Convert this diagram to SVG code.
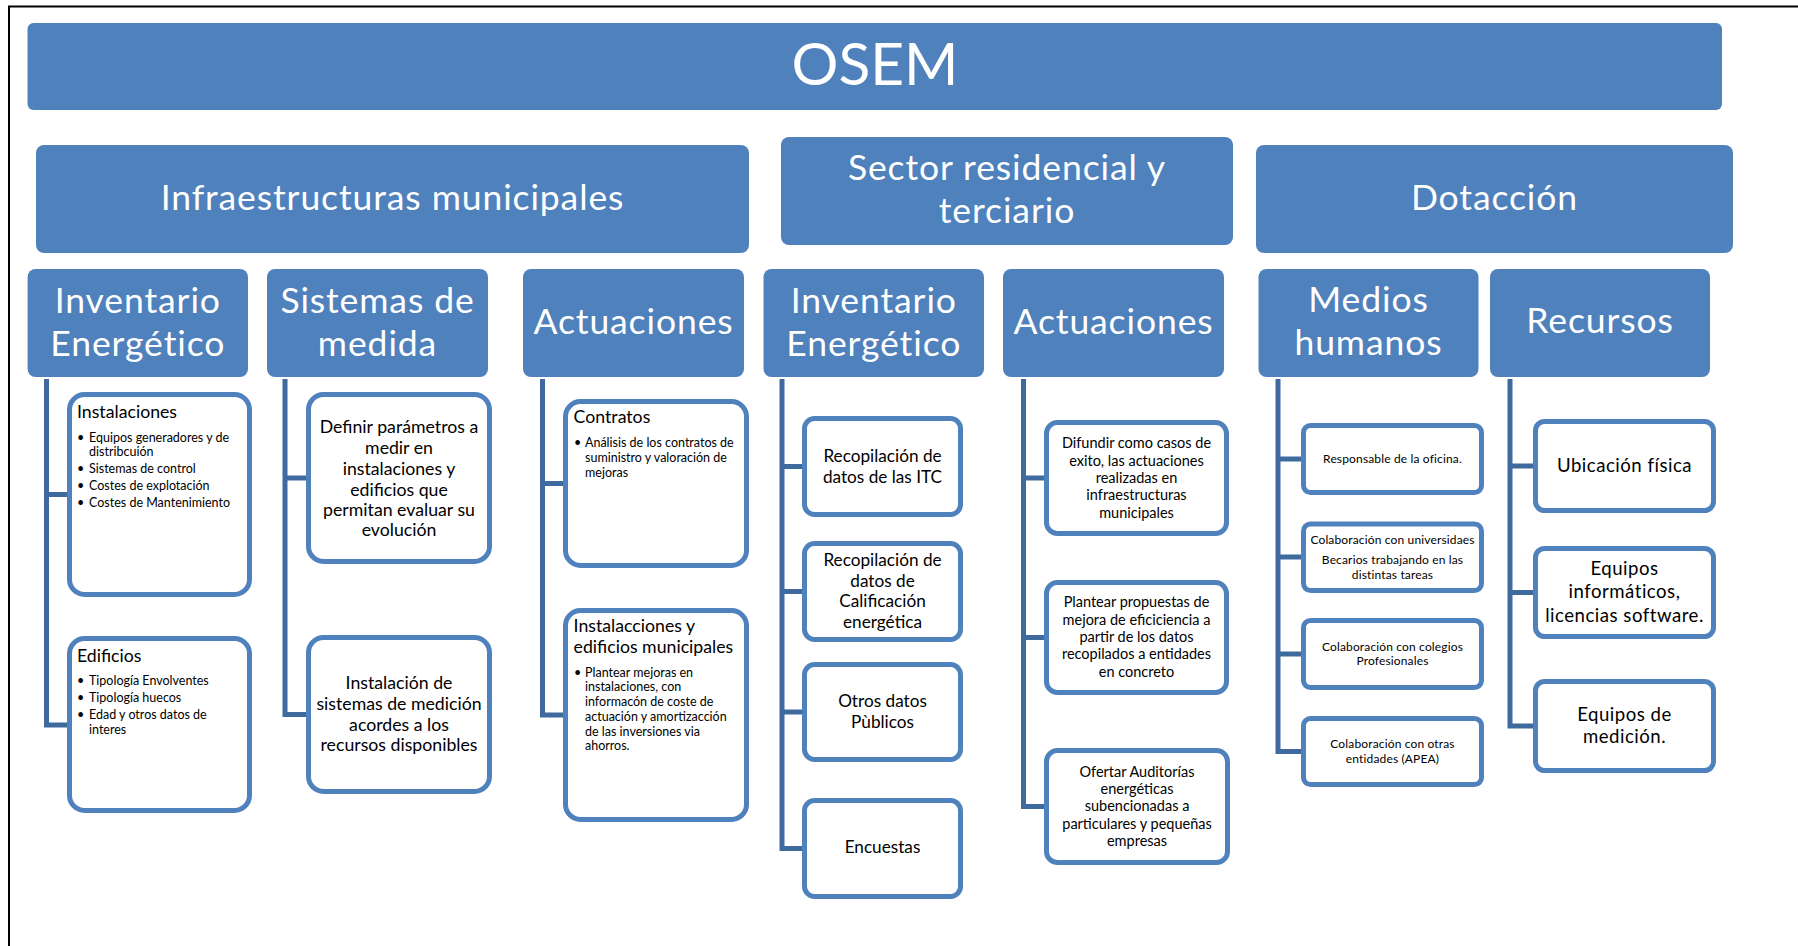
<svg xmlns="http://www.w3.org/2000/svg" width="1798" height="946" viewBox="0 0 1798 946">
<style>
text{font-family:Lato,"Liberation Sans",sans-serif;}
.hdr{fill:#4F81BD;}
.hw{fill:#ffffff;text-anchor:middle;}
.t0{font-size:58.6px;}
.t1{font-size:35.5px;letter-spacing:0.9px;}
.box{fill:#ffffff;stroke:#4F81BD;stroke-width:5;}
.con{fill:none;stroke:#3F6A9D;stroke-width:5;}
.bt{fill:#000000;}
.c{text-anchor:middle;}
.s18{font-size:17.7px;}
.s17{font-size:17.2px;}
.s13{font-size:12.5px;}
.s145{font-size:14.5px;}
.s12{font-size:12px;letter-spacing:0.15px;}
.s186{font-size:18.6px;letter-spacing:0.5px;}
.frame{stroke:#000000;stroke-width:2;fill:none;}
</style>
<rect x="0" y="0" width="1798" height="946" fill="#ffffff"/>
<path class="frame" d="M9,946 V6.5 H1798"/>

<g id="osem">
<rect class="hdr" x="27.5" y="23" width="1694.5" height="87" rx="6"/>
<text class="hw t0" x="875" y="85">OSEM</text>
</g>

<g id="infraestructuras">
<rect class="hdr" x="36" y="145" width="713" height="108" rx="8"/>
<text class="hw t1" x="392.5" y="210">Infraestructuras municipales</text>
</g>
<g id="sector">
<rect class="hdr" x="781" y="137" width="452" height="108" rx="8"/>
<text class="hw t1" x="1007" y="180">Sector residencial y</text>
<text class="hw t1" x="1007" y="223">terciario</text>
</g>
<g id="dotaccion">
<rect class="hdr" x="1256" y="145" width="477" height="108" rx="8"/>
<text class="hw t1" x="1494.5" y="210">Dotacción</text>
</g>

<g id="inventario1">
<rect class="hdr" x="27.6" y="269" width="220.4" height="108" rx="8"/>
<text class="hw t1" x="137.8" y="313">Inventario</text>
<text class="hw t1" x="137.8" y="356">Energético</text>
</g>
<g id="sistemas">
<rect class="hdr" x="267" y="269" width="221" height="108" rx="8"/>
<text class="hw t1" x="377.5" y="313">Sistemas de</text>
<text class="hw t1" x="377.5" y="356">medida</text>
</g>
<g id="actuaciones1">
<rect class="hdr" x="523" y="269" width="221" height="108" rx="8"/>
<text class="hw t1" x="633.5" y="334">Actuaciones</text>
</g>
<g id="inventario2">
<rect class="hdr" x="763.5" y="269" width="220.5" height="108" rx="8"/>
<text class="hw t1" x="873.75" y="313">Inventario</text>
<text class="hw t1" x="873.75" y="356">Energético</text>
</g>
<g id="actuaciones2">
<rect class="hdr" x="1003" y="269" width="221" height="108" rx="8"/>
<text class="hw t1" x="1113.5" y="334">Actuaciones</text>
</g>
<g id="medios">
<rect class="hdr" x="1258.5" y="269" width="220" height="108" rx="8"/>
<text class="hw t1" x="1368.5" y="312">Medios</text>
<text class="hw t1" x="1368.5" y="355">humanos</text>
</g>
<g id="recursos">
<rect class="hdr" x="1490" y="269" width="220" height="108" rx="8"/>
<text class="hw t1" x="1600" y="333">Recursos</text>
</g>

<g id="connectors">
<path class="con" d="M46.5,379 V725 H67 M46.5,494.5 H67"/>
<path class="con" d="M285,379 V714.5 H306 M285,478 H306"/>
<path class="con" d="M542.5,379 V715 H563 M542.5,483.5 H563"/>
<path class="con" d="M782,379 V848.5 H802 M782,466.5 H802 M782,591.5 H802 M782,712 H802"/>
<path class="con" d="M1023.5,379 V806.5 H1044 M1023.5,478 H1044 M1023.5,637.5 H1044"/>
<path class="con" d="M1278,379 V751.5 H1301 M1278,459 H1301 M1278,557 H1301 M1278,654 H1301"/>
<path class="con" d="M1510,379 V726 H1533 M1510,466 H1533 M1510,592.5 H1533"/>
</g>

<g id="instalaciones">
<rect class="box" x="69.5" y="394.5" width="180" height="200" rx="15"/>
<text class="bt s18" x="77" y="417.7">Instalaciones</text>
<text class="bt s13"><tspan x="77" y="441.7">•</tspan><tspan x="89" y="441.7">Equipos generadores y de</tspan><tspan x="89" y="456">distribcuión</tspan><tspan x="77" y="473.3">•</tspan><tspan x="89" y="473.3">Sistemas de control</tspan><tspan x="77" y="490.3">•</tspan><tspan x="89" y="490.3">Costes de explotación</tspan><tspan x="77" y="507.3">•</tspan><tspan x="89" y="507.3">Costes de Mantenimiento</tspan></text>
</g>
<g id="edificios">
<rect class="box" x="69.5" y="638.5" width="180" height="172" rx="15"/>
<text class="bt s18" x="77" y="661.7">Edificios</text>
<text class="bt s13"><tspan x="77" y="685">•</tspan><tspan x="89" y="685">Tipología Envolventes</tspan><tspan x="77" y="702">•</tspan><tspan x="89" y="702">Tipología huecos</tspan><tspan x="77" y="719">•</tspan><tspan x="89" y="719">Edad y otros datos de</tspan><tspan x="89" y="734">interes</tspan></text>
</g>
<g id="definir">
<rect class="box" x="308.5" y="394.5" width="181" height="167" rx="15"/>
<text class="bt s18 c"><tspan x="399" y="433.3">Definir parámetros a</tspan><tspan x="399" y="454">medir en</tspan><tspan x="399" y="475">instalaciones y</tspan><tspan x="399" y="495.7">edificios que</tspan><tspan x="399" y="516">permitan evaluar su</tspan><tspan x="399" y="536">evolución</tspan></text>
</g>
<g id="instalacion-sistemas">
<rect class="box" x="308.5" y="637.5" width="181" height="154" rx="15"/>
<text class="bt s18 c"><tspan x="399" y="689.3">Instalación de</tspan><tspan x="399" y="710">sistemas de medición</tspan><tspan x="399" y="731">acordes a los</tspan><tspan x="399" y="751">recursos disponibles</tspan></text>
</g>
<g id="contratos">
<rect class="box" x="565.5" y="401.5" width="181" height="164" rx="15"/>
<text class="bt s18" x="573.6" y="423.3">Contratos</text>
<text class="bt s13"><tspan x="574" y="446.7">•</tspan><tspan x="585" y="446.7">Análisis de los contratos de</tspan><tspan x="585" y="461.7">suministro y valoración de</tspan><tspan x="585" y="476.7">mejoras</tspan></text>
</g>
<g id="instalacciones-edificios">
<rect class="box" x="565.5" y="610.5" width="181" height="209" rx="15"/>
<text class="bt s18"><tspan x="573.6" y="632.3">Instalacciones y</tspan><tspan x="573.6" y="653.3">edificios municipales</tspan></text>
<text class="bt s13"><tspan x="574" y="676.7">•</tspan><tspan x="585" y="676.7">Plantear mejoras en</tspan><tspan x="585" y="691">instalaciones, con</tspan><tspan x="585" y="706">informacón de coste de</tspan><tspan x="585" y="721">actuación y amortizacción</tspan><tspan x="585" y="736">de las inversiones via</tspan><tspan x="585" y="750">ahorros.</tspan></text>
</g>
<g id="itc">
<rect class="box" x="804.5" y="418.5" width="156" height="96" rx="10"/>
<text class="bt s17 c"><tspan x="882.5" y="462.3">Recopilación de</tspan><tspan x="882.5" y="483.3">datos de las ITC</tspan></text>
</g>
<g id="calificacion">
<rect class="box" x="804.5" y="543.5" width="156" height="96" rx="10"/>
<text class="bt s17 c"><tspan x="882.5" y="566">Recopilación de</tspan><tspan x="882.5" y="586.7">datos de</tspan><tspan x="882.5" y="607.3">Calificación</tspan><tspan x="882.5" y="628.3">energética</tspan></text>
</g>
<g id="otros">
<rect class="box" x="804.5" y="664.5" width="156" height="95" rx="10"/>
<text class="bt s17 c"><tspan x="882.5" y="707.3">Otros datos</tspan><tspan x="882.5" y="728.3">Pùblicos</tspan></text>
</g>
<g id="encuestas">
<rect class="box" x="804.5" y="800.5" width="156" height="96" rx="10"/>
<text class="bt s17 c" x="882.5" y="853.3">Encuestas</text>
</g>
<g id="difundir">
<rect class="box" x="1046.5" y="422.5" width="180" height="111" rx="11"/>
<text class="bt s145 c"><tspan x="1136.5" y="448.3">Difundir como casos de</tspan><tspan x="1136.5" y="465.6">exito, las actuaciones</tspan><tspan x="1136.5" y="483">realizadas en</tspan><tspan x="1136.5" y="500.3">infraestructuras</tspan><tspan x="1136.5" y="517.7">municipales</tspan></text>
</g>
<g id="plantear">
<rect class="box" x="1046.5" y="582.5" width="180" height="110" rx="11"/>
<text class="bt s145 c"><tspan x="1136.5" y="607.3">Plantear propuestas de</tspan><tspan x="1136.5" y="624.7">mejora de eficiciencia a</tspan><tspan x="1136.5" y="642">partir de los datos</tspan><tspan x="1136.5" y="659.4">recopilados a entidades</tspan><tspan x="1136.5" y="676.7">en concreto</tspan></text>
</g>
<g id="ofertar">
<rect class="box" x="1046.5" y="750.5" width="181" height="112" rx="11"/>
<text class="bt s145 c"><tspan x="1137" y="776.7">Ofertar Auditorías</tspan><tspan x="1137" y="794">energéticas</tspan><tspan x="1137" y="811.3">subencionadas a</tspan><tspan x="1137" y="828.6">particulares y pequeñas</tspan><tspan x="1137" y="846">empresas</tspan></text>
</g>
<g id="responsable">
<rect class="box" x="1303.5" y="425.5" width="178" height="67" rx="7"/>
<text class="bt s12 c" x="1392.5" y="462.7">Responsable de la oficina.</text>
</g>
<g id="universidades">
<rect class="box" x="1303.5" y="524" width="178" height="66.5" rx="7"/>
<text class="bt s12 c"><tspan x="1392.5" y="544">Colaboración con universidaes</tspan><tspan x="1392.5" y="564">Becarios trabajando en las</tspan><tspan x="1392.5" y="579">distintas tareas</tspan></text>
</g>
<g id="colegios">
<rect class="box" x="1303.5" y="620.5" width="178" height="67" rx="7"/>
<text class="bt s12 c"><tspan x="1392.5" y="650.7">Colaboración con colegios</tspan><tspan x="1392.5" y="665">Profesionales</tspan></text>
</g>
<g id="otras">
<rect class="box" x="1303.5" y="718.5" width="178" height="66" rx="7"/>
<text class="bt s12 c"><tspan x="1392.5" y="748.3">Colaboración con otras</tspan><tspan x="1392.5" y="762.7">entidades (APEA)</tspan></text>
</g>
<g id="ubicacion">
<rect class="box" x="1535.5" y="421.5" width="178" height="89" rx="9"/>
<text class="bt s186 c" x="1624.5" y="471.7">Ubicación física</text>
</g>
<g id="equipos-informaticos">
<rect class="box" x="1535.5" y="548.5" width="178" height="88" rx="9"/>
<text class="bt s186 c"><tspan x="1624.5" y="575">Equipos</tspan><tspan x="1624.5" y="598.3">informáticos,</tspan><tspan x="1624.5" y="621.7">licencias software.</tspan></text>
</g>
<g id="equipos-medicion">
<rect class="box" x="1535.5" y="681.5" width="178" height="89" rx="9"/>
<text class="bt s186 c"><tspan x="1624.5" y="720.7">Equipos de</tspan><tspan x="1624.5" y="743.3">medición.</tspan></text>
</g>
</svg>
